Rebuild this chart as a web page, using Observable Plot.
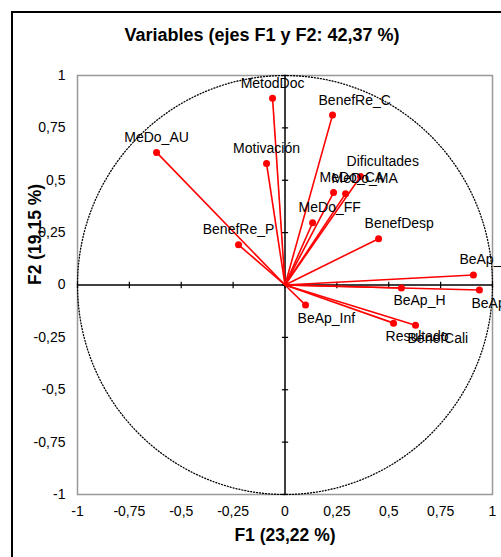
<!DOCTYPE html>
<html>
<head>
<meta charset="utf-8">
<script src="https://cdn.jsdelivr.net/npm/d3@7"></script>
<script src="https://cdn.jsdelivr.net/npm/@observablehq/plot@0.6"></script>
<style>
  html, body { margin: 0; padding: 0; background: #fff; }
  #wrap { position: relative; width: 501px; height: 557px; overflow: hidden; font-family: "Liberation Sans", Arial, sans-serif; }
  #border { position: absolute; left: 11px; top: 11px; width: 700px; height: 700px; border: 2px solid #000; box-sizing: border-box; }
  #title { position: absolute; left: 0; top: 25px; width: 524px; text-align: center; font-weight: bold; font-size: 18px; line-height: 21px; color: #000; }
  #chart { position: absolute; left: 0; top: 60px; }
</style>
</head>
<body>
<div id="wrap">
  <div id="border"></div>
  <div id="title">Variables (ejes F1 y F2: 42,37 %)</div>
  <div id="chart"></div>
</div>
<script>
const names = ["MetodDoc","BenefRe_C","MeDo_AU","Motivación","Dificultades","MeDo_CA","MeDo_MA","MeDo_FF","BenefDesp","BenefRe_P","BeAp_H","BeAp_H","BeAp_H","BeAp_Inf","Resultado","BenefCali"];
const f1 = [-0.060, 0.229, -0.619, -0.089, 0.364, 0.234, 0.292, 0.133, 0.451, -0.224, 0.908, 0.937, 0.561, 0.099, 0.523, 0.629];
const f2 = [0.892, 0.811, 0.633, 0.580, 0.518, 0.441, 0.436, 0.297, 0.221, 0.192, 0.048, -0.024, -0.014, -0.096, -0.182, -0.192];
const tickValues = [-1, -0.75, -0.5, -0.25, 0, 0.25, 0.5, 0.75, 1];
const xTitle = "F1 (23,22 %)";
const yTitle = "F2 (19,15 %)";

const data = names.map((n, i) => ({name: n, x: f1[i], y: f2[i]}));
const fmt = d => String(d).replace(".", ",");
const circle = d3.range(0, 361, 2).map(a => ({x: Math.cos(a * Math.PI / 180), y: Math.sin(a * Math.PI / 180)}));

const chart = Plot.plot({
  width: 501,
  height: 497,
  marginTop: 15,
  marginBottom: 63,
  marginLeft: 77,
  marginRight: 9,
  x: {domain: [-1, 1], label: null},
  y: {domain: [-1, 1], label: null},
  style: {fontFamily: "'Liberation Sans', Arial, sans-serif", fontSize: "14px", color: "#000", background: "transparent", overflow: "visible"},
  marks: [
    Plot.frame({stroke: "#999", strokeWidth: 1.5}),
    Plot.line(circle, {x: "x", y: "y", stroke: "#000", strokeWidth: 1.3, strokeDasharray: "1,2"}),
    Plot.ruleX([0], {stroke: "#000", strokeWidth: 1.5}),
    Plot.ruleY([0], {stroke: "#000", strokeWidth: 1.5}),
    Plot.link(tickValues, {x1: d => d, x2: d => d, y1: -0.015, y2: 0.015, stroke: "#000", strokeWidth: 1.2}),
    Plot.link(tickValues, {y1: d => d, y2: d => d, x1: -0.015, x2: 0.015, stroke: "#000", strokeWidth: 1.2}),
    Plot.axisX(tickValues, {tickSize: 0, tickPadding: 12, tickFormat: fmt, fontSize: 14}),
    Plot.axisY(tickValues, {tickSize: 0, tickPadding: 12, tickFormat: fmt, fontSize: 14}),
    Plot.link(data, {x1: 0, y1: 0, x2: "x", y2: "y", stroke: "#ff0000", strokeWidth: 1.6}),
    Plot.dot(data, {x: "x", y: "y", r: 3.5, fill: "#ff0000"}),
    Plot.text(data, {filter: d => d.x < 0, x: "x", y: "y", text: "name", textAnchor: "middle", dy: -15, fontSize: 14, fill: "#000"}),
    Plot.text(data, {filter: d => d.x >= 0 && d.y >= 0, x: "x", y: "y", text: "name", textAnchor: "start", dx: -14, dy: -15, fontSize: 14, fill: "#000"}),
    Plot.text(data, {filter: d => d.x >= 0 && d.y < 0, x: "x", y: "y", text: "name", textAnchor: "start", dx: -8, dy: 13, fontSize: 14, fill: "#000"}),
    Plot.text([xTitle], {frameAnchor: "bottom", dy: 46, fontSize: 17.5, fontWeight: "bold", fill: "#000"}),
    Plot.text([yTitle], {frameAnchor: "left", dx: -42, rotate: -90, fontSize: 17.5, fontWeight: "bold", fill: "#000"})
  ]
});
document.getElementById("chart").appendChild(chart);
</script>
</body>
</html>
